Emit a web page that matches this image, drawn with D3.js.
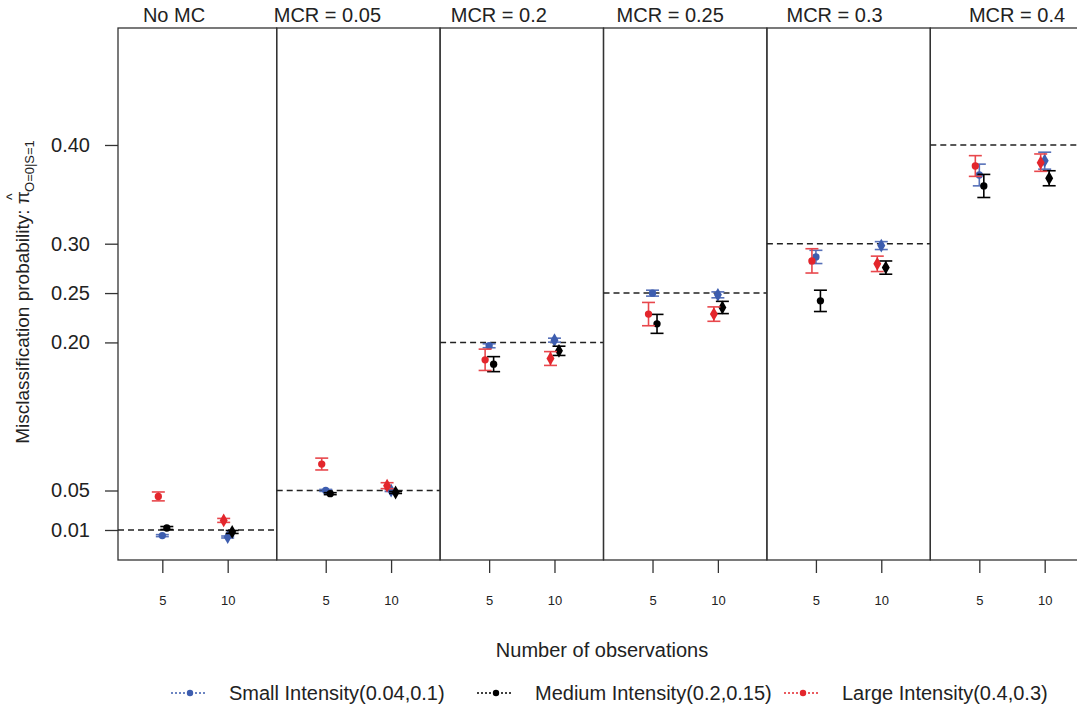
<!DOCTYPE html>
<html>
<head>
<meta charset="utf-8">
<script src="https://cdn.jsdelivr.net/npm/d3@7"></script>
<style>
  body { margin: 0; background: #fff; }
  text { font-family: "Liberation Sans", Arial, sans-serif; fill: #222; }
</style>
</head>
<body>
<div id="chart"></div>
<script>
// panels (true misclassification rate), sample sizes, series
const panels = ["No MC", "MCR = 0.05", "MCR = 0.2", "MCR = 0.25", "MCR = 0.3", "MCR = 0.4"];
const trueMCR = [0.01, 0.05, 0.2, 0.25, 0.3, 0.4];
const nObs = [5, 10];
const yTicks = [0.01, 0.05, 0.2, 0.25, 0.3, 0.4];
const yTickLabels = ["0.01", "0.05", "0.20", "0.25", "0.30", "0.40"];
const seriesNames = ["Small Intensity(0.04,0.1)", "Medium Intensity(0.2,0.15)", "Large Intensity(0.4,0.3)"];

// estimate per panel: [n=5, n=10]
const smallVals = [[0.0043, 0.0029], [0.0501, 0.0500], [0.1966, 0.2023], [0.2499, 0.2482], [0.2866, 0.2981], [0.3696, 0.3841]];
const smallErr  = [[0.001, 0.001], [0.001, 0.001], [0.002, 0.002], [0.003, 0.003], [0.0067, 0.004], [0.011, 0.0086]];
const mediumVals = [[0.0120, 0.0080], [0.0468, 0.0480], [0.178, 0.1915], [0.2188, 0.2354], [0.2421, 0.2758], [0.3585, 0.3663]];
const mediumErr  = [[0.0015, 0.0015], [0.001, 0.001], [0.0076, 0.0047], [0.0096, 0.0062], [0.0108, 0.0067], [0.0117, 0.0076]];
const largeVals = [[0.044, 0.0197], [0.0768, 0.0549], [0.1824, 0.1837], [0.2287, 0.2287], [0.2826, 0.2796], [0.3787, 0.3821]];
const largeErr  = [[0.0045, 0.002], [0.006, 0.003], [0.0108, 0.007], [0.0118, 0.0073], [0.0123, 0.0078], [0.0105, 0.0088]];

const colors = ["#3d5daf", "#000000", "#e3262c"];
const barColors = ["#5670b8", "#000000", "#e8474c"];
const jitter = [0, 4.5, -4];   // px shift of each series inside a panel
const titleShift = [-21, -31, -23, -15, -14, 5];

const W = 1077, H = 715;
const plotTop = 28, plotBottom = 560;
const x0 = 113.3, pw = 163.4, frameLeft = 118;

const svg = d3.select("#chart").append("svg")
  .attr("width", W).attr("height", H);

const y = d3.scaleLinear()
  .domain([-0.0204, 0.5185])
  .range([plotBottom, plotTop]);

const panelX = d3.scaleBand()
  .domain(d3.range(panels.length))
  .range([x0, x0 + pw * panels.length])
  .paddingInner(0).paddingOuter(0);

const xn = d3.scaleLinear().domain([1.25, 13.75]).range([0, pw]);

// y axis
const yAxis = svg.append("g")
  .attr("transform", `translate(${frameLeft},0)`)
  .call(d3.axisLeft(y).tickValues(yTicks)
    .tickFormat((d, i) => yTickLabels[i]).tickSize(13).tickPadding(15));
yAxis.select(".domain").remove();
yAxis.selectAll("line").attr("stroke", "#333").attr("stroke-width", 1.3);
yAxis.selectAll("text").attr("font-size", 20).attr("fill", "#222")
  .attr("font-family", "Liberation Sans, Arial, sans-serif");

// y label, pi with a hat and a subscript
const yl = svg.append("text")
  .attr("transform", "translate(29,292) rotate(-90)")
  .attr("text-anchor", "middle")
  .attr("font-size", 19);
yl.append("tspan").text("Misclassification probability: ");
yl.append("tspan").text("\u03C0");
yl.append("tspan").attr("font-size", 14).attr("dx", -9).attr("dy", -12).text("^");
yl.append("tspan").attr("font-size", 13).attr("dx", 1.5).attr("dy", 17).text("O=0|S=1");

const series = [
  { vals: smallVals, err: smallErr },
  { vals: mediumVals, err: mediumErr },
  { vals: largeVals, err: largeErr }
];

panels.forEach((name, p) => {
  const px = panelX(p);
  const g = svg.append("g").attr("transform", `translate(${px},0)`);

  // strip title
  svg.append("text")
    .attr("x", px + pw / 2 + titleShift[p]).attr("y", 22)
    .attr("text-anchor", "middle").attr("font-size", 20)
    .text(name);

  // frame
  const left = p === 0 ? frameLeft - px : 0;
  g.append("rect")
    .attr("x", left).attr("y", plotTop)
    .attr("width", pw - left).attr("height", plotBottom - plotTop)
    .attr("fill", "none").attr("stroke", "#333").attr("stroke-width", 1.3);

  // true value
  g.append("line")
    .attr("x1", left).attr("x2", pw)
    .attr("y1", y(trueMCR[p])).attr("y2", y(trueMCR[p]))
    .attr("stroke", "#222").attr("stroke-width", 1.5)
    .attr("stroke-dasharray", "6,4");

  // x axis
  const xa = g.append("g").attr("transform", `translate(0,${plotBottom})`)
    .call(d3.axisBottom(xn).tickValues(nObs).tickSize(13).tickPadding(23));
  xa.select(".domain").remove();
  xa.selectAll("line").attr("stroke", "#333").attr("stroke-width", 1.3);
  xa.selectAll("text").attr("font-size", 13).attr("fill", "#222")
    .attr("font-family", "Liberation Sans, Arial, sans-serif");

  // series
  series.forEach((s, k) => {
    nObs.forEach((n, j) => {
      const cx = xn(n) + jitter[k];
      const v = s.vals[p][j], e = s.err[p][j];
      const y1 = y(v - e), y2 = y(v + e);
      const eb = g.append("g").attr("stroke", barColors[k]).attr("stroke-width", 1.6);
      eb.append("line").attr("x1", cx).attr("x2", cx).attr("y1", y1).attr("y2", y2);
      eb.append("line").attr("x1", cx - 6.5).attr("x2", cx + 6.5).attr("y1", y1).attr("y2", y1);
      eb.append("line").attr("x1", cx - 6.5).attr("x2", cx + 6.5).attr("y1", y2).attr("y2", y2);
      const sym = j === 0 ? d3.symbolCircle : d3.symbolDiamond;
      g.append("path")
        .attr("d", d3.symbol().type(sym).size(j === 0 ? 42 : 55)())
        .attr("transform", `translate(${cx},${y(v)})`)
        .attr("fill", colors[k]);
    });
  });
});

// x label
svg.append("text")
  .attr("x", 602).attr("y", 657)
  .attr("text-anchor", "middle").attr("font-size", 20)
  .text("Number of observations");

// legend
const legX = [171, 477, 784];
const leg = svg.append("g").attr("transform", "translate(0,693)");
seriesNames.forEach((nm, k) => {
  const lg = leg.append("g").attr("transform", `translate(${legX[k]},0)`);
  lg.append("line").attr("x1", 0).attr("x2", 36).attr("y1", 0).attr("y2", 0)
    .attr("stroke", colors[k]).attr("stroke-width", 1.3).attr("stroke-dasharray", "2,2");
  lg.append("circle").attr("cx", 19).attr("cy", 0).attr("r", 3.2).attr("fill", colors[k]);
  lg.append("text").attr("x", 58).attr("y", 7).attr("font-size", 20).text(nm);
});
</script>
</body>
</html>
